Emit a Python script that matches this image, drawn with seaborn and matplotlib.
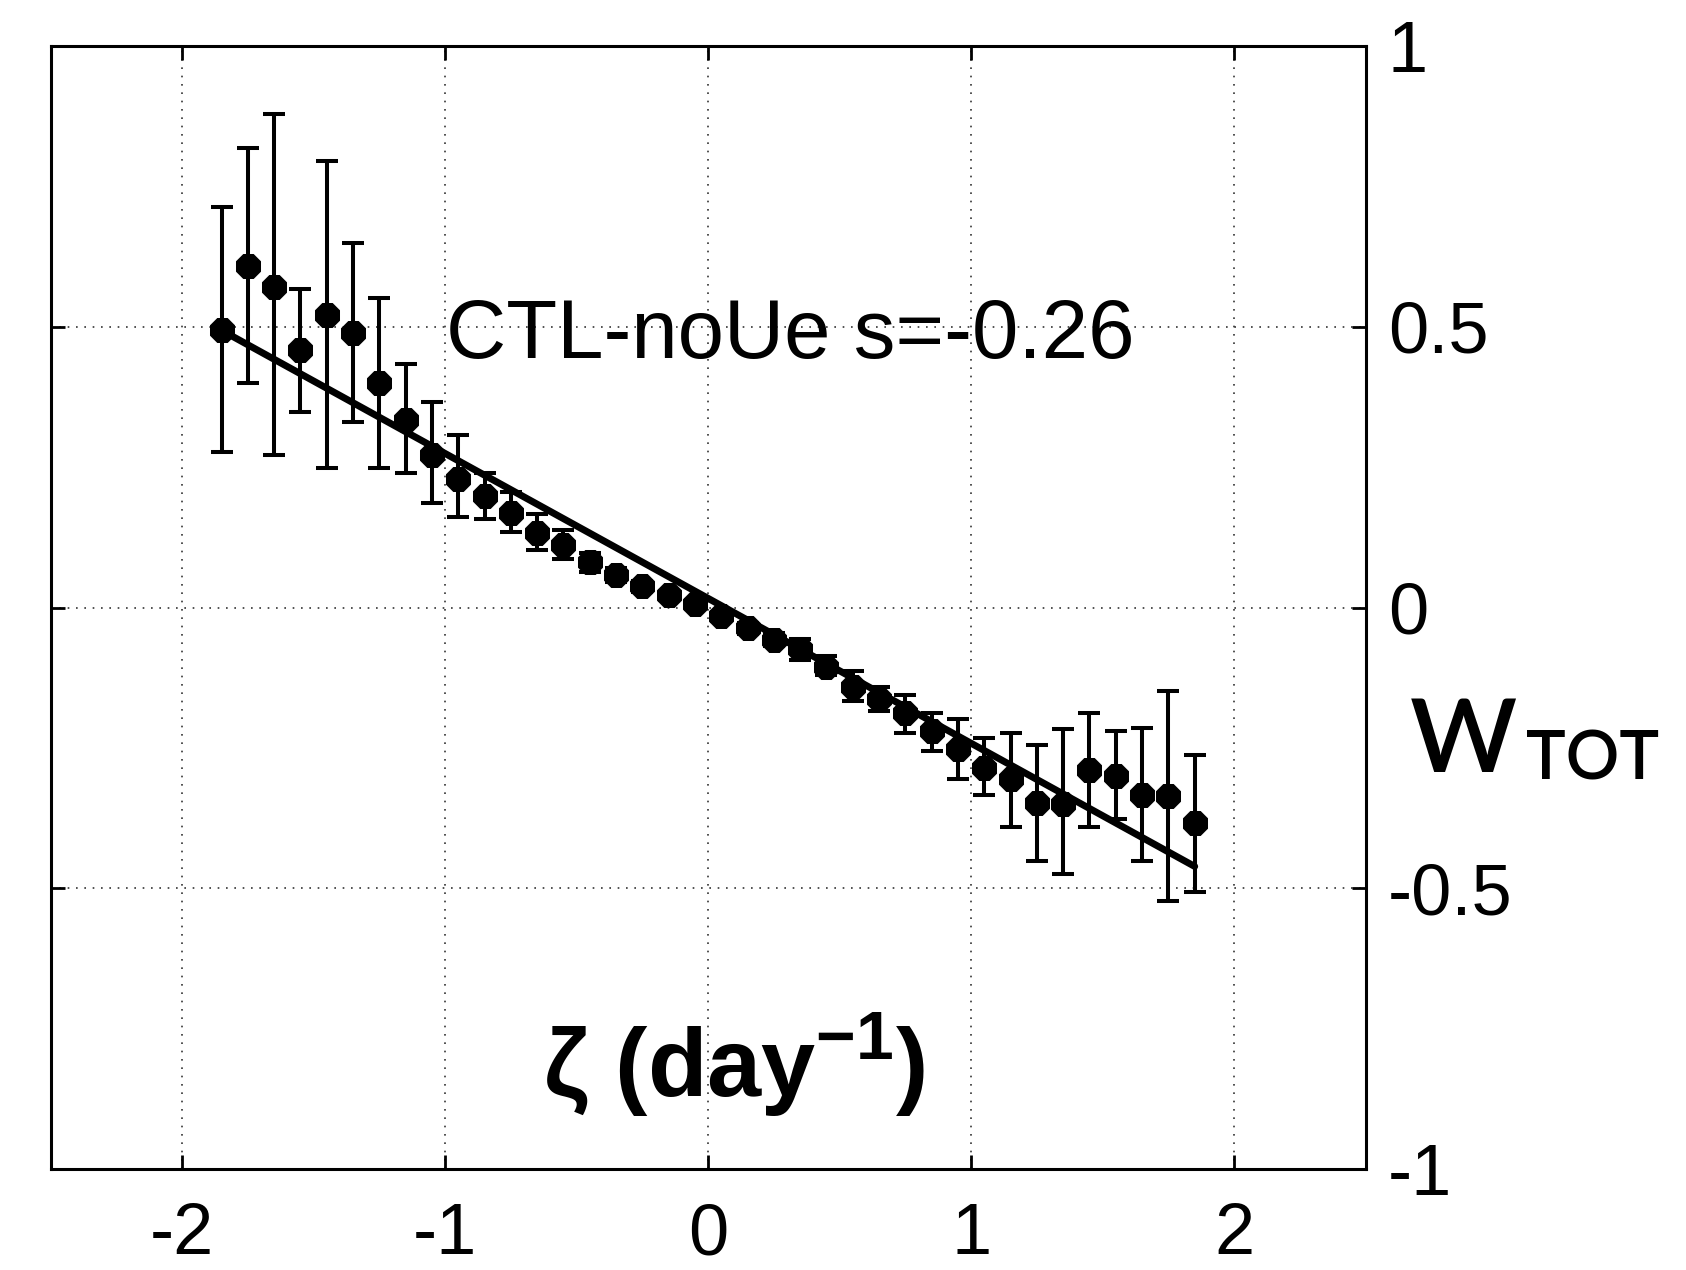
"""
plot.py — W_TOT vs relative vorticity, binned means with error bars and linear fit
"""

import pandas as pd
import matplotlib.pyplot as plt
import seaborn as sns

# binned relative vorticity (day^-1)
zeta = [-1.85, -1.75, -1.65, -1.55, -1.45, -1.35, -1.25, -1.15, -1.05, -0.95,
        -0.85, -0.75, -0.65, -0.55, -0.45, -0.35, -0.25, -0.15, -0.05, 0.05,
        0.15, 0.25, 0.35, 0.45, 0.55, 0.65, 0.75, 0.85, 0.95, 1.05,
        1.15, 1.25, 1.35, 1.45, 1.55, 1.65, 1.75, 1.85]

# bin means of W_TOT
w_tot = [0.494, 0.608, 0.572, 0.459, 0.521, 0.489, 0.401, 0.335, 0.272, 0.230,
         0.198, 0.169, 0.133, 0.111, 0.081, 0.058, 0.038, 0.022, 0.006, -0.015,
         -0.037, -0.057, -0.074, -0.105, -0.141, -0.163, -0.188, -0.219, -0.251, -0.286,
         -0.306, -0.348, -0.349, -0.289, -0.300, -0.333, -0.336, -0.384]

# error bar ends
w_upper = [0.714, 0.818, 0.880, 0.567, 0.796, 0.649, 0.551, 0.434, 0.366, 0.307,
           0.239, 0.206, 0.167, 0.138, 0.098, 0.070, 0.048, 0.030, 0.014, -0.007,
           -0.027, -0.045, -0.056, -0.087, -0.113, -0.142, -0.156, -0.187, -0.198, -0.233,
           -0.224, -0.244, -0.217, -0.188, -0.220, -0.214, -0.149, -0.263]
w_lower = [0.278, 0.401, 0.272, 0.349, 0.248, 0.330, 0.248, 0.239, 0.187, 0.162,
           0.157, 0.134, 0.102, 0.086, 0.064, 0.046, 0.028, 0.014, -0.002, -0.023,
           -0.047, -0.069, -0.093, -0.120, -0.166, -0.184, -0.223, -0.255, -0.305, -0.334,
           -0.390, -0.451, -0.474, -0.390, -0.377, -0.451, -0.523, -0.506]

# linear fit (s = -0.26) end points
fit_zeta = [-1.85, 1.85]
fit_w = [0.494, -0.461]

x_ticks = [-2, -1, 0, 1, 2]
x_tick_labels = ["-2", "-1", "0", "1", "2"]
y_ticks = [-1, -0.5, 0, 0.5, 1]
y_tick_labels = ["-1", "-0.5", "0", "0.5", "1"]

sns.set_theme(style="white")
plt.rcParams["font.family"] = ["Liberation Sans", "DejaVu Sans"]
plt.rcParams["text.color"] = "black"
plt.rcParams["mathtext.fontset"] = "custom"
plt.rcParams["mathtext.rm"] = "Liberation Sans:bold"
plt.rcParams["mathtext.bf"] = "Liberation Sans:bold"

df = pd.DataFrame({"zeta": zeta, "w": w_tot, "hi": w_upper, "lo": w_lower})

fig = plt.figure(figsize=(16.86, 12.7), dpi=100)
ax = fig.add_axes([0.030, 0.0795, 0.780, 0.8841])

ax.errorbar(df["zeta"], df["w"], yerr=[df["w"] - df["lo"], df["hi"] - df["w"]],
            fmt="none", ecolor="black", elinewidth=2.9, capsize=8, capthick=2.9,
            zorder=2)
sns.lineplot(x=fit_zeta, y=fit_w, ax=ax, color="black", linewidth=5, zorder=3)
sns.scatterplot(data=df, x="zeta", y="w", ax=ax, marker="8", s=380,
                color="black", edgecolor="black", linewidth=0, zorder=4)

ax.set_xlim(-2.5, 2.5)
ax.set_ylim(-1, 1)
ax.set_xticks(x_ticks)
ax.set_xticklabels(x_tick_labels)
ax.set_yticks(y_ticks)
ax.set_yticklabels(y_tick_labels)
ax.set_xlabel("")
ax.set_ylabel("")

ax.grid(True, linestyle=(0, (1, 4)), color="0.2", linewidth=1.2)
ax.tick_params(axis="both", which="both", direction="in", length=10, width=2,
               top=True, bottom=True, left=True, right=True, colors="black",
               labelsize=52)
ax.tick_params(axis="y", labelleft=False, labelright=True, pad=16)
ax.tick_params(axis="x", pad=24)
for sp in ax.spines.values():
    sp.set_visible(True)
    sp.set_color("black")
    sp.set_linewidth(2.2)

ax.text(-0.996, 0.445, "CTL-noUe s=-0.26", fontsize=60, color="black",
        va="baseline", ha="left")
ax.text(-0.627, -0.872, "ζ (day$^{\\mathbf{-1}}$)", fontsize=70, color="black",
        fontweight="bold", va="baseline", ha="left")

# W_TOT label right of the axes
fig.text(0.836, 0.392, "W", fontsize=74, family=["Lato", "DejaVu Sans"],
         fontweight=600, color="black", va="baseline", ha="left")
fig.text(0.905, 0.386, "TOT", fontsize=48, family=["Lato", "DejaVu Sans"],
         fontweight=600, color="black", va="baseline", ha="left")

plt.savefig("out.png", dpi=100)
plt.close()
